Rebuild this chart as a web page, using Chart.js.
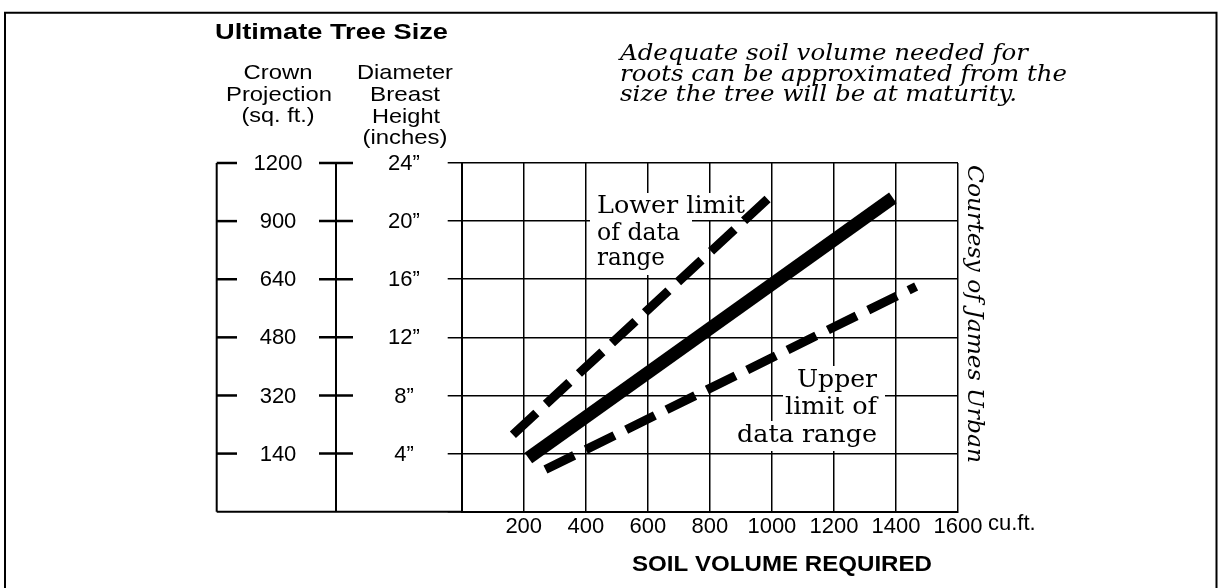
<!DOCTYPE html>
<html>
<head>
<meta charset="utf-8">
<title>Soil volume required</title>
<script src="https://cdn.jsdelivr.net/npm/chart.js@4/dist/chart.umd.min.js"></script>
<style>
  html, body { margin: 0; padding: 0; background: #fff; }
  canvas { display: block; }
</style>
</head>
<body>
<canvas id="myChart" width="1221" height="588"></canvas>
<script>
// x: soil volume (cu.ft.), y: diameter breast height (inches)
const volumeTicks = [200, 400, 600, 800, 1000, 1200, 1400, 1600];
const dbhTicks = [4, 8, 12, 16, 20, 24];
const crownLabels = ["140", "320", "480", "640", "900", "1200"];

// lines
const averageLine = [{ x: 215, y: 3.7 }, { x: 1390, y: 21.6 }];
const lowerLimit = [{ x: 165, y: 5.3 }, { x: 995, y: 21.7 }];
const upperLimit = [{ x: 270, y: 2.9 }, { x: 1465, y: 15.5 }];

const SANS = "'Liberation Sans', Arial, sans-serif";
const SERIF = "'DejaVu Serif', serif";

const ctx = document.getElementById("myChart");

// stretch or squeeze a text to a given width
function fitText(c, text, x, y, w, align) {
  const s = w / c.measureText(text).width;
  c.save();
  c.translate(x, y);
  c.scale(s, 1);
  c.textAlign = align || "left";
  c.fillText(text, 0, 0);
  c.restore();
}

function line(c, x1, y1, x2, y2) {
  c.beginPath();
  c.moveTo(x1, y1);
  c.lineTo(x2, y2);
  c.stroke();
}

const extras = {
  id: "extras",
  beforeDatasetsDraw(chart) {
    const c = chart.ctx;
    c.save();
    // white patches behind the line labels
    c.fillStyle = "#fff";
    c.fillRect(590, 193, 160, 27);
    c.fillRect(590, 219, 102, 27);
    c.fillRect(590, 245, 82, 30);
    c.fillRect(793, 366, 92, 28);
    c.fillRect(783, 393, 102, 28);
    c.fillRect(735, 421, 148, 30);

    c.fillStyle = "#000";
    c.textBaseline = "alphabetic";
    c.font = "24px " + SERIF;
    fitText(c, "Lower limit", 597, 213, 148);
    fitText(c, "of data", 597, 240, 83);
    fitText(c, "range", 597, 265, 68);
    fitText(c, "Upper", 877, 387, 80, "right");
    fitText(c, "limit of", 877, 414, 92, "right");
    fitText(c, "data range", 877, 442, 140, "right");
    c.restore();
  },
  afterDraw(chart) {
    const c = chart.ctx;
    const a = chart.chartArea;
    const yS = chart.scales.y;
    const xS = chart.scales.x;
    const top = yS.getPixelForValue(24);
    const bot = yS.getPixelForValue(0);
    c.save();
    c.strokeStyle = "#000";
    c.fillStyle = "#000";

    // outer frame
    c.lineWidth = 2;
    c.beginPath();
    c.moveTo(5, 600);
    c.lineTo(5, 12.7);
    c.lineTo(1216.5, 12.7);
    c.lineTo(1216.5, 600);
    c.stroke();

    // two left axes: crown projection and DBH
    line(c, 216.7, top, 216.7, bot);
    line(c, 336, top, 336, bot);
    line(c, 216.7, bot, a.left, bot);
    c.font = "22px " + SANS;
    c.textAlign = "center";
    c.textBaseline = "middle";
    dbhTicks.forEach((v, i) => {
      const py = yS.getPixelForValue(v);
      c.lineWidth = 2.5;
      line(c, 216.7, py, 237, py);
      line(c, 319, py, 353, py);
      c.fillText(crownLabels[i], 278, py + 1);
      c.fillText(v + "\u201D", 404, py + 1);
    });

    // headers
    c.textBaseline = "alphabetic";
    c.font = "bold 22px " + SANS;
    fitText(c, "Ultimate Tree Size", 215, 39, 233);
    c.font = "21px " + SANS;
    fitText(c, "Crown", 278, 79, 69, "center");
    fitText(c, "Projection", 279, 100.5, 106, "center");
    fitText(c, "(sq. ft.)", 278, 122, 73, "center");
    fitText(c, "Diameter", 405, 79, 96, "center");
    fitText(c, "Breast", 405, 101, 70, "center");
    fitText(c, "Height", 406, 122.5, 68, "center");
    fitText(c, "(inches)", 405, 144, 85, "center");

    // unit after the last x label, and axis title
    c.font = "22px " + SANS;
    c.textAlign = "left";
    c.fillText("cu.ft.", xS.getPixelForValue(1600) + 30, 530);
    c.font = "bold 22px " + SANS;
    fitText(c, "SOIL VOLUME REQUIRED", 782, 571, 300, "center");

    // italic note
    c.font = "italic 22px " + SERIF;
    fitText(c, "Adequate soil volume needed for", 620, 60, 408);
    fitText(c, "roots can be approximated from the", 620, 80.5, 447);
    fitText(c, "size the tree will be at maturity.", 620, 101, 397);

    // credit, rotated
    c.save();
    c.translate(968, 165);
    c.rotate(Math.PI / 2);
    c.font = "italic 22px " + SERIF;
    fitText(c, "Courtesy of James Urban", 0, 0, 298);
    c.restore();

    c.restore();
  }
};

const data = {
  datasets: [
    {
      label: "Average",
      data: averageLine,
      borderColor: "#000",
      borderWidth: 13,
      borderCapStyle: "butt",
      pointRadius: 0,
    },
    {
      label: "Lower limit of data range",
      data: lowerLimit,
      borderColor: "#000",
      borderWidth: 9,
      borderDash: [32, 13],
      borderCapStyle: "butt",
      pointRadius: 0,
    },
    {
      label: "Upper limit of data range",
      data: upperLimit,
      borderColor: "#000",
      borderWidth: 9,
      borderDash: [32, 13],
      borderCapStyle: "butt",
      pointRadius: 0,
    },
  ],
};

const config = {
  type: "line",
  data: data,
  options: {
    responsive: false,
    animation: false,
    layout: { padding: { left: 447.7, top: 163, right: 263, bottom: 0 } },
    plugins: {
      legend: { display: false },
      tooltip: { enabled: false },
    },
    scales: {
      x: {
        type: "linear",
        min: 0,
        max: 1600,
        afterBuildTicks: (scale) => {
          scale.ticks = [0].concat(volumeTicks).map((v) => ({ value: v }));
        },
        afterFit: (scale) => {
          scale.height = 76.3;
        },
        ticks: {
          callback: (v) => (volumeTicks.includes(v) ? String(v) : ""),
          color: "#000",
          font: { family: SANS, size: 22 },
          padding: 2,
          maxRotation: 0,
          autoSkip: false,
        },
        grid: { color: "#000", lineWidth: 1.5, drawTicks: false },
        border: { color: "#000", width: 2 },
      },
      y: {
        type: "linear",
        min: 0,
        max: 24,
        afterBuildTicks: (scale) => {
          scale.ticks = [0].concat(dbhTicks).map((v) => ({ value: v }));
        },
        afterFit: (scale) => {
          scale.width = 14;
        },
        ticks: { display: false },
        grid: { color: "#000", lineWidth: 1.5, tickLength: 14 },
        border: { color: "#000", width: 2 },
      },
    },
  },
  plugins: [extras],
};

const myChart = new Chart(ctx, config);
</script>
</body>
</html>
